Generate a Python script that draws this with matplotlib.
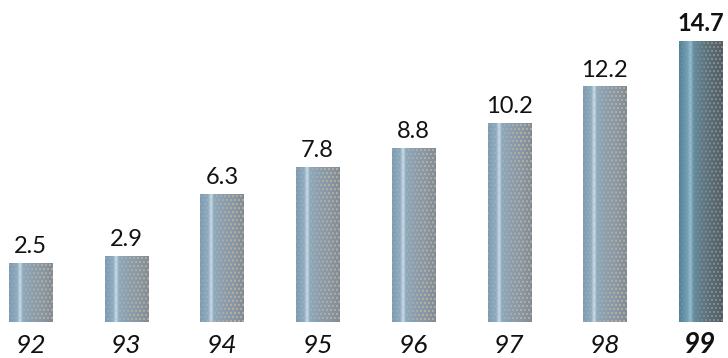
import numpy as np
import matplotlib
matplotlib.use("Agg")
import matplotlib.pyplot as plt

years = ["92", "93", "94", "95", "96", "97", "98", "99"]
values = [2.5, 2.9, 6.3, 7.8, 8.8, 10.2, 12.2, 14.7]
value_labels = ["2.5", "2.9", "6.3", "7.8", "8.8", "10.2", "12.2", "14.7"]

plt.rcParams['font.family'] = ['Lato', 'DejaVu Sans']

W, H = 728, 358
fig = plt.figure(figsize=(W / 100, H / 100), dpi=100)
ax = fig.add_axes([0, 0, 1, 1])
ax.set_xlim(-0.319, 7.288)
ax.set_ylim(-2.69, 16.98)
ax.axis('off')

BASE = -0.714
BAR_W = 0.45


def profile(stops, n):
    t = np.linspace(0, 1, n)
    pos = np.array([s[0] for s in stops])
    cols = np.array([s[1] for s in stops], dtype=float)
    return np.stack([np.interp(t, pos, cols[:, k]) for k in range(3)], axis=1)


normal_stops = [(0.0, (125, 155, 180)), (0.18, (140, 172, 194)), (0.25, (200, 222, 236)),
                (0.31, (140, 170, 190)), (0.5, (138, 160, 178)), (0.8, (135, 150, 162)),
                (1.0, (128, 140, 150))]
dark_stops = [(0.0, (80, 130, 155)), (0.18, (110, 160, 182)), (0.26, (150, 190, 208)),
              (0.33, (98, 142, 162)), (0.55, (92, 120, 134)), (0.8, (86, 104, 114)),
              (1.0, (80, 94, 102))]


def bar_image(ncols, nrows, stops, dot_col):
    prof = profile(stops, ncols)
    img = np.tile(prof[None, :, :], (nrows, 1, 1))
    t = np.linspace(0, 1, ncols)
    strength = np.clip((t - 0.3) / 0.4, 0, 1) * 0.4 + 0.35
    dot = np.array(dot_col, dtype=float)
    for r in range(1, nrows - 1, 4):
        shift = 0 if (r // 4) % 2 == 0 else 2
        for c in range(shift, ncols - 1, 4):
            s = strength[c]
            img[r:r + 2, c:c + 2] = img[r:r + 2, c:c + 2] * (1 - s) + dot * s
    return np.clip(img / 255.0, 0, 1)


px_per_unit = 18.2
for i, (v, lab) in enumerate(zip(values, value_labels)):
    last = i == len(values) - 1
    x0, x1 = i - BAR_W / 2, i + BAR_W / 2
    nrows = max(int((v - BASE) * px_per_unit), 4)
    img = bar_image(44, nrows, dark_stops if last else normal_stops,
                    (150, 148, 140) if last else (196, 180, 158))
    ax.imshow(img, extent=(x0, x1, BASE, v), aspect='auto',
              interpolation='bilinear', zorder=2)
    ax.annotate(lab, (i, v), xytext=(0, 7.5), textcoords='offset points',
                ha='center', va='baseline', fontsize=17,
                fontweight='bold' if last else 'normal', color='#111111')
    ax.text(i, -2.40, years[i], ha='center', va='baseline',
            fontsize=20 if last else 19, fontstyle='italic',
            fontweight='bold' if last else 'normal', color='#111111')

ax.set_xlim(-0.319, 7.288)
ax.set_ylim(-2.69, 16.98)
fig.savefig("out.png", dpi=100, facecolor='white')
